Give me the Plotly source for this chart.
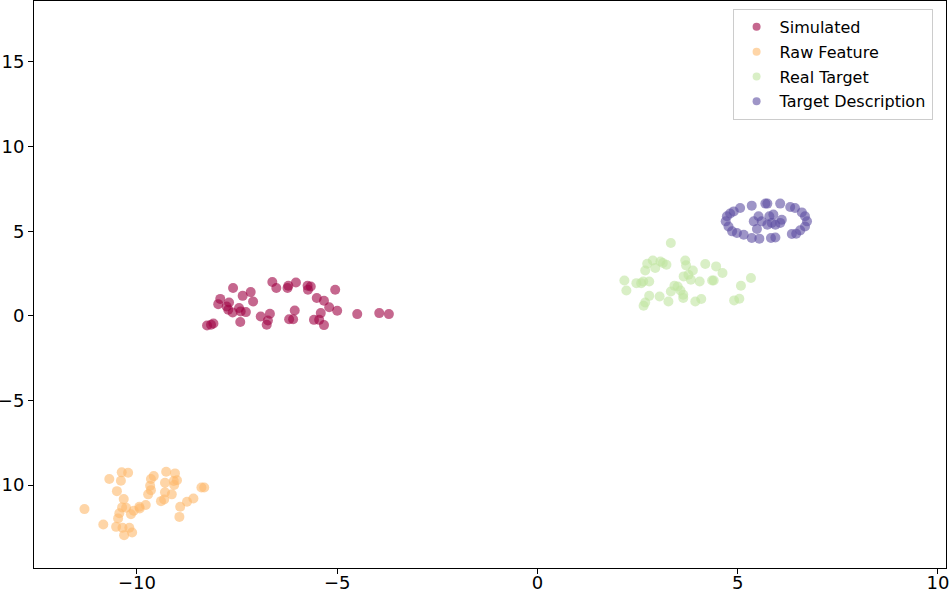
import plotly.graph_objects as go

series_names = ["Simulated", "Raw Feature", "Real Target", "Target Description"]
series_colors = ["#9e0142", "#fdb96c", "#bfe5a0", "#5e4fa2"]

sim_x = [-8.25, -8.15, -8.09, -7.97, -7.92, -7.60, -7.70, -7.72, -7.61, -7.45, -7.36, -7.16, -7.10,
         -7.28, -7.41, -7.42, -6.91, -6.68, -6.73, -6.76, -6.62, -6.52, -6.24, -6.22, -6.03, -6.06,
         -6.20, -6.10, -5.74, -5.66, -5.73, -5.51, -5.33, -5.20, -5.00, -5.41, -5.45, -5.58, -5.33,
         -5.05, -4.50, -3.95, -3.71, -7.76]
sim_y = [-0.57, -0.53, -0.45, 0.69, 1.00, 1.64, 0.79, 0.36, 0.20, 0.46, 1.18, 1.40, 0.85,
         0.22, 0.26, -0.37, -0.04, 0.12, -0.28, -0.53, 2.00, 1.64, 1.64, 1.78, 1.97, 0.31,
         -0.20, -0.20, 1.78, 1.73, 1.54, 1.05, 0.89, 0.51, 0.30, 0.16, -0.24, -0.24, -0.55,
         1.54, 0.10, 0.16, 0.10, 0.55]

raw_x = [-11.31, -10.84, -10.69, -10.38, -10.22, -10.40, -10.50, -10.33, -10.37, -10.44, -10.47,
         -10.52, -10.36, -10.32, -10.19, -10.12, -10.27, -10.15, -10.08, -9.94, -9.78, -9.93,
         -9.72, -9.65, -9.67, -9.65, -9.58, -9.40, -9.32, -9.30, -9.13, -9.30, -9.27, -9.05,
         -9.08, -9.00, -9.07, -8.92, -8.75, -8.59, -8.94, -8.39, -8.32]
raw_y = [-11.42, -12.33, -9.64, -9.25, -9.27, -9.75, -10.36, -10.83, -11.32, -11.67, -11.97,
         -12.47, -12.52, -12.96, -12.52, -12.80, -11.34, -11.72, -11.52, -11.28, -11.18, -11.38,
         -10.55, -10.30, -10.04, -9.64, -9.47, -10.95, -10.85, -10.43, -10.55, -9.86, -9.21, -9.31,
         -9.76, -9.72, -10.00, -11.28, -10.99, -10.79, -11.88, -10.14, -10.14]

real_x = [3.33, 2.17, 2.22, 2.47, 2.59, 2.64, 2.79, 2.69, 2.74, 2.88, 2.94, 3.07, 3.13, 3.22,
          2.65, 2.69, 2.79, 3.05, 3.27, 3.33, 3.42, 3.50, 3.57, 3.64, 3.64, 3.69, 3.71, 3.65,
          3.77, 3.88, 3.83, 4.05, 4.19, 4.36, 4.40, 4.46, 4.62, 3.94, 4.09, 5.08, 5.33, 4.91, 5.04]
real_y = [4.30, 2.09, 1.50, 1.93, 1.93, 2.03, 2.03, 2.68, 3.08, 3.27, 2.82, 3.21, 3.12, 3.02,
          0.59, 0.79, 1.18, 1.14, 0.85, 1.44, 1.78, 1.73, 1.50, 1.24, 1.05, 3.27, 2.98, 2.33,
          2.43, 2.68, 2.13, 2.03, 3.06, 2.09, 2.09, 2.92, 2.53, 0.85, 0.99, 1.78, 2.23, 0.91, 1.01]

desc_x = [4.73, 4.70, 4.77, 4.86, 4.98, 5.15, 5.35, 5.54, 5.83, 5.94, 6.35, 6.46, 6.56, 6.68,
          6.73, 6.68, 6.60, 6.43, 6.31, 6.06, 5.74, 5.69, 5.35, 5.06, 4.90, 4.81, 5.52, 5.40,
          5.48, 5.60, 5.79, 5.89, 5.85, 5.94, 6.06, 6.10, 5.74]
desc_y = [5.88, 5.58, 5.28, 4.99, 4.89, 4.79, 4.60, 4.56, 4.60, 4.63, 4.83, 4.85, 5.05, 5.28,
          5.58, 5.88, 6.11, 6.37, 6.43, 6.63, 6.63, 6.63, 6.51, 6.37, 6.17, 6.04, 5.88, 5.58,
          5.13, 5.58, 5.88, 5.98, 5.49, 5.38, 5.49, 5.68, 5.38]

x_ticks = [-10, -5, 0, 5, 10]
x_tick_labels = ["\u221210", "\u22125", "0", "5", "10"]
y_ticks = [-10, -5, 0, 5, 10, 15]
y_tick_labels = ["\u221210", "\u22125", "0", "5", "10", "15"]

xs = [sim_x, raw_x, real_x, desc_x]
ys = [sim_y, raw_y, real_y, desc_y]

fig = go.Figure()
for name, color, x, y in zip(series_names, series_colors, xs, ys):
    fig.add_trace(go.Scatter(
        x=x, y=y, mode="markers", name=name, showlegend=False,
        marker=dict(size=10, color=color, opacity=0.6, line=dict(width=0)),
    ))
# legend entries (smaller markers, as in the reference legend)
for name, color in zip(series_names, series_colors):
    fig.add_trace(go.Scatter(
        x=[None], y=[None], mode="markers", name=name, legendgroup=name,
        marker=dict(size=8, color=color, opacity=0.6, line=dict(width=0)),
    ))

axis_common = dict(
    showgrid=False, zeroline=False, showline=True, linecolor="black", linewidth=1,
    mirror=True, ticks="outside", ticklen=5, tickcolor="black", tickwidth=1,
    tickfont=dict(family="DejaVu Sans", size=18, color="black"), automargin=False,
)

fig.update_layout(
    width=951, height=594,
    margin=dict(l=34, r=5, t=1, b=26, autoexpand=False),
    plot_bgcolor="white", paper_bgcolor="white",
    xaxis=dict(range=[-12.57, 10.2], tickvals=x_ticks, ticktext=x_tick_labels,
               ticklabelstandoff=-7, **axis_common),
    yaxis=dict(range=[-14.9, 18.6], tickvals=y_ticks, ticktext=y_tick_labels,
               ticklabelstandoff=0, **axis_common),
    legend=dict(
        x=0.766, y=0.986, xanchor="left", yanchor="top",
        bgcolor="rgba(255,255,255,0.8)", bordercolor="#cccccc", borderwidth=1,
        font=dict(family="DejaVu Sans", size=16, color="black"),
        itemsizing="trace", tracegroupgap=1, itemwidth=36,
    ),
    showlegend=True,
)

fig.write_html("out.html", config={"displayModeBar": False},
               post_script="document.body.style.margin='0';")
